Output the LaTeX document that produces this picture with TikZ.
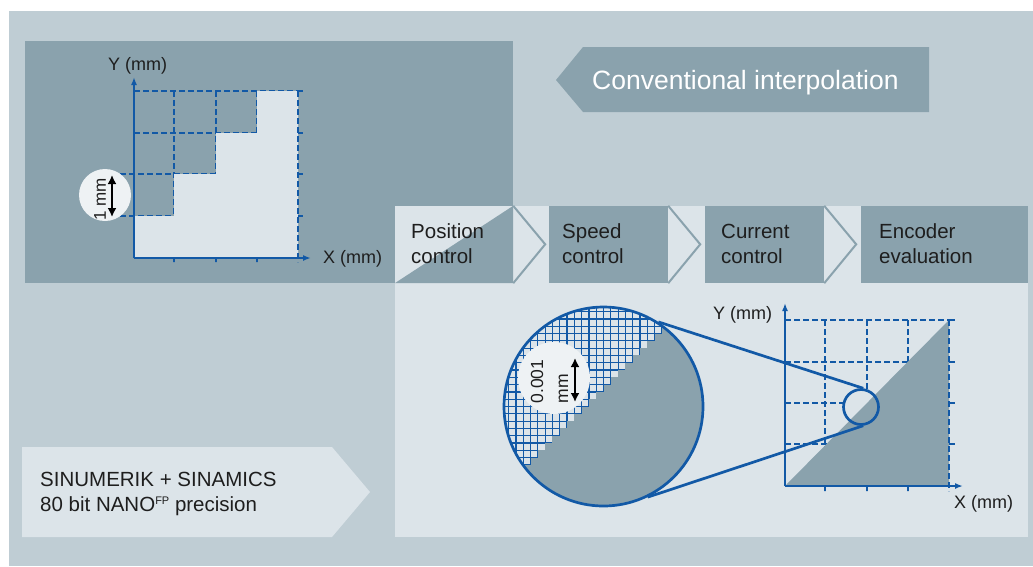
\documentclass[tikz,border=0pt]{standalone}
\usepackage{fontspec}
\setmainfont{Liberation Sans}
\usetikzlibrary{arrows.meta}
\definecolor{bg}{HTML}{BFCDD4}
\definecolor{dk}{HTML}{8AA2AD}
\definecolor{lt}{HTML}{DCE4E9}
\definecolor{bl}{HTML}{1259A6}
\definecolor{wc}{HTML}{EEF2F4}
\definecolor{txt}{HTML}{1E1E1E}
\begin{document}
\begin{tikzpicture}[x=1pt,y=-1pt,
  gridd/.style={draw=bl, line width=1.2pt, dash pattern=on 5.5pt off 3.5pt},
  tickl/.style={draw=bl, line width=1.2pt},
  axisl/.style={draw=bl, line width=2.4pt, -{Latex[length=8pt,width=6pt]}},
  chainbox/.style={rectangle, fill=dk, inner sep=0, minimum height=77pt},
  chev/.style={draw=dk, line width=2pt},
  lbl/.style={anchor=base west, inner sep=0, text=txt, font=\fontsize{20.5}{25}\selectfont},
  axlbl/.style={anchor=base west, text=txt, inner sep=0, font=\fontsize{18}{20}\selectfont},
  magc/.style={draw=bl, line width=2.7pt},
  dblarrow/.style={draw=black, line width=2.6pt, {Latex[length=9pt,width=9pt]}-{Latex[length=9pt,width=9pt]}},
  ]
\useasboundingbox (0,0) rectangle (1033,566);
\fill[white] (0,0) rectangle (1033,566);
\fill[bg] (9,11) rectangle (1033,566);
% top-left dark panel
\fill[dk] (25,41) rectangle (513,283);
% light panel
\fill[lt] (395,206) rectangle (1028,537);

% ---------- left chart ----------
\foreach \y in {91,133} \draw[gridd] (134,\y) -- (303,\y);
\foreach \y in {174,216} \draw[gridd] (120,\y) -- (303,\y);
\foreach \x in {174,216,257,298} \draw[gridd] (\x,91) -- (\x,262);
\fill[lt] (134,258) -- (134,216) -- (174,216) -- (174,174) -- (216,174) -- (216,133)
  -- (257,133) -- (257,91) -- (298,91) -- (298,258) -- cycle;
\draw[gridd] (298,91) -- (298,262);
\foreach \y in {91,133,174,216} \draw[tickl] (298,\y) -- (303,\y);
\foreach \x in {174,216,257} \draw[tickl] (\x,258) -- (\x,262);
\coordinate (lo) at (134,258);
\coordinate (lyend) at (134,77);
\coordinate (lxend) at (311,258);
\draw[axisl] (lo) -- (lyend);
\draw[axisl] (lo) -- (lxend);
\node[axlbl] (lylab) at (108,70) {Y (mm)};
\node[axlbl] (lxlab) at (323,263) {X (mm)};
\node[circle, fill=wc, minimum size=52pt, inner sep=0] (c1) at (105,195) {};
\node[rotate=90, inner sep=0, text=txt, font=\fontsize{17}{18}\selectfont] (t1mm) at (100,199.5) {1 mm};
\coordinate (a1) at (112,175);
\coordinate (a2) at (112,217);
\draw[dblarrow] (a1) -- (a2);

% ---------- title ----------
\fill[dk] (556,80) -- (583,47) -- (929,47) -- (929,112) -- (583,112) -- cycle;
\node[anchor=base west, inner sep=0, text=white, font=\fontsize{26.5}{30}\selectfont] (title) at (592,89.5) {Conventional interpolation};

% ---------- chain ----------
\node[chainbox, fill=lt, minimum width=118pt] (b1) at (454,244.5) {};
\fill[dk] (b1.south west) -- (b1.north east) -- (b1.south east) -- cycle;
\node[chainbox, minimum width=119pt] (b2) at (608.5,244.5) {};
\node[chainbox, minimum width=119pt] (b3) at (764.5,244.5) {};
\node[chainbox, minimum width=167pt] (b4) at (944.5,244.5) {};
\draw[chev] (b1.north east) -- ++(32,38.5) -- (b1.south east);
\draw[chev] (b2.north east) -- ++(32,38.5) -- (b2.south east);
\draw[chev] (b3.north east) -- ++(32,38.5) -- (b3.south east);
\node[lbl] (l1) at (411,238) {\begin{tabular}[t]{@{}l@{}}Position\\control\end{tabular}};
\node[lbl] (l2) at (562,238) {\begin{tabular}[t]{@{}l@{}}Speed\\control\end{tabular}};
\node[lbl] (l3) at (721,238) {\begin{tabular}[t]{@{}l@{}}Current\\control\end{tabular}};
\node[lbl] (l4) at (879,238) {\begin{tabular}[t]{@{}l@{}}Encoder\\evaluation\end{tabular}};

% ---------- bottom-left label ----------
\fill[lt] (22,447) -- (332,447) -- (370,492) -- (332,537) -- (22,537) -- cycle;
\node[lbl] (sin) at (40,486) {\begin{tabular}[t]{@{}l@{}}SINUMERIK + SINAMICS\\80 bit NANO\raisebox{6.5pt}{\fontsize{11}{11}\selectfont FP} precision\end{tabular}};

% ---------- right chart ----------
\foreach \y in {320,362,403,444} \draw[gridd] (785,\y) -- (955,\y);
\foreach \x in {825,867,908,949} \draw[gridd] (\x,320) -- (\x,491);
\fill[lt] (861,407) circle[radius=17.5pt];
\fill[dk] (785,486) -- (949,320) -- (949,486) -- cycle;
\draw[gridd] (949,320) -- (949,491);
\foreach \y in {320,362,403,444} \draw[tickl] (949,\y) -- (955,\y);
\foreach \x in {825,867,908} \draw[tickl] (\x,486) -- (\x,491);
\coordinate (ro) at (785,486);
\coordinate (ryend) at (785,303);
\coordinate (rxend) at (963,486);
\draw[axisl] (ro) -- (ryend);
\draw[axisl] (ro) -- (rxend);
\node[axlbl] (rylab) at (713,319) {Y (mm)};
\node[axlbl] (rxlab) at (954,508) {X (mm)};

% ---------- magnifier ----------
\begin{scope}
  \clip (603.5,406.5) circle[radius=99.5pt];
  \fill[lt] (500,300) rectangle (710,512);
  \foreach \k in {-15,...,15} {
    \draw[bl, line width=1.2pt] ({603.5+\k*7.3},300) -- ({603.5+\k*7.3},512);
    \draw[bl, line width=1.2pt] (500,{406.5+\k*7.3}) -- (710,{406.5+\k*7.3});
  }
  \foreach \i in {-15,...,14}
    \fill[dk] ({603.5+\i*7.3},{406.5+(-3-\i)*7.3}) rectangle ({603.5+(\i+1)*7.3},512);
\end{scope}
\node[circle, magc, minimum size=199pt, inner sep=0] (bigc) at (603.5,406.5) {};
\node[circle, magc, minimum size=35pt, inner sep=0] (smallc) at (861,407) {};
\draw[magc] (bigc.57) -- (smallc.83);
\draw[magc] (bigc.-64) -- (smallc.-83);
\node[circle, fill=wc, minimum size=72pt, inner sep=0] (c2) at (554,378) {};
\node[rotate=90, align=left, inner sep=0, text=txt, font=\fontsize{17.5}{25}\selectfont] (t001) at (549.5,381.5) {0.001\\mm};
\coordinate (a3) at (575,358);
\coordinate (a4) at (575,402);
\draw[dblarrow] (a3) -- (a4);
\end{tikzpicture}
\end{document}
